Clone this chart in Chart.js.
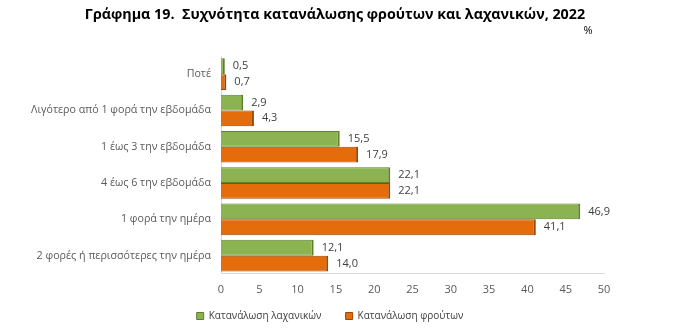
<!DOCTYPE html>
<html>
<head>
<meta charset="utf-8">
<script src="https://cdn.jsdelivr.net/npm/chart.js@4"></script>
<style>
html,body{margin:0;padding:0;background:#fff;}
#wrap{width:677px;height:333px;}
</style>
</head>
<body>
<div id="wrap"><canvas id="c" width="677" height="333"></canvas></div>
<script>
const titleText = 'Γράφημα 19.  Συχνότητα κατανάλωσης φρούτων και λαχανικών, 2022';
const unitText = '%';
const categories = ['Ποτέ','Λιγότερο από 1 φορά την εβδομάδα','1 έως 3 την εβδομάδα','4 έως 6 την εβδομάδα','1 φορά την ημέρα','2 φορές ή περισσότερες την ημέρα'];
const seriesNames = ['Κατανάλωση λαχανικών','Κατανάλωση φρούτων'];
const vegetables = [0.5, 2.9, 15.5, 22.1, 46.9, 12.1];
const fruits = [0.7, 4.3, 17.9, 22.1, 41.1, 14.0];
const xTicks = [0,5,10,15,20,25,30,35,40,45,50];

const FONT = '"Open Sans", "Noto Sans", sans-serif';

const labelPlugin = {
  id: 'valLabels',
  afterLayout(chart) {
    const lg = chart.legend;
    if (lg) {
      const shift = 330 - (lg.left + lg.right) / 2;
      lg.left += shift; lg.right += shift;
    }
  },
  afterDatasetsDraw(chart) {
    const ctx = chart.ctx;
    ctx.save();
    ctx.font = '11px ' + FONT;
    ctx.fillStyle = '#404040';
    ctx.textAlign = 'left';
    ctx.textBaseline = 'middle';
    chart.data.datasets.forEach((ds, i) => {
      const meta = chart.getDatasetMeta(i);
      meta.data.forEach((bar, j) => {
        const txt = ds.data[j].toFixed(1).replace('.', ',');
        ctx.fillText(txt, bar.x + 8, bar.y);
      });
    });
    // title
    ctx.font = 'bold 14.3px ' + FONT;
    ctx.fillStyle = '#000';
    ctx.textAlign = 'center';
    ctx.fillText(titleText, 335, 15);
    // unit
    ctx.font = '11px ' + FONT;
    ctx.fillStyle = '#000';
    ctx.fillText(unitText, chart.chartArea.right - 16, 31);
    ctx.restore();
  }
};

new Chart(document.getElementById('c'), {
  type: 'bar',
  data: {
    labels: categories,
    datasets: [
      {label: seriesNames[0], data: vegetables, backgroundColor: '#8CB352', borderColor: '#5F7F2C',
       borderWidth: {top:1, right:2, bottom:1, left:0}, borderSkipped: false,
       categoryPercentage: 0.87, barPercentage: 1.0},
      {label: seriesNames[1], data: fruits, backgroundColor: '#E46C0A', borderColor: '#9A4706',
       borderWidth: {top:1, right:2, bottom:1, left:0}, borderSkipped: false,
       categoryPercentage: 0.87, barPercentage: 1.0}
    ]
  },
  options: {
    indexAxis: 'y',
    responsive: false,
    animation: false,
    layout: {padding: {top: 56, right: 73, bottom: 2, left: 4}},
    plugins: {
      title: {display: false},
      legend: {position: 'bottom', labels: {boxWidth: 7, boxHeight: 7, font: {family: FONT, size: 10}, color: '#404040', padding: 6,
        generateLabels(chart) {
          const items = Chart.defaults.plugins.legend.labels.generateLabels(chart);
          items.forEach((it, i) => { if (i < items.length - 1) it.text = it.text + '       '; });
          return items;
        }}},
      tooltip: {enabled: false}
    },
    scales: {
      x: {
        min: 0, max: 50,
        afterBuildTicks(scale) { scale.ticks = xTicks.map(v => ({value: v})); },
        grid: {display: false, drawTicks: false},
        border: {display: true, color: '#D9D9D9'},
        ticks: {font: {family: FONT, size: 11}, color: '#595959', padding: 9}
      },
      y: {
        afterFit(scale) { scale.width = 217; },
        grid: {display: false, drawTicks: false},
        border: {display: true, color: '#D9D9D9'},
        ticks: {font: {family: FONT, size: 10.7}, color: '#595959', padding: 10}
      }
    }
  },
  plugins: [labelPlugin]
});
</script>
</body>
</html>
